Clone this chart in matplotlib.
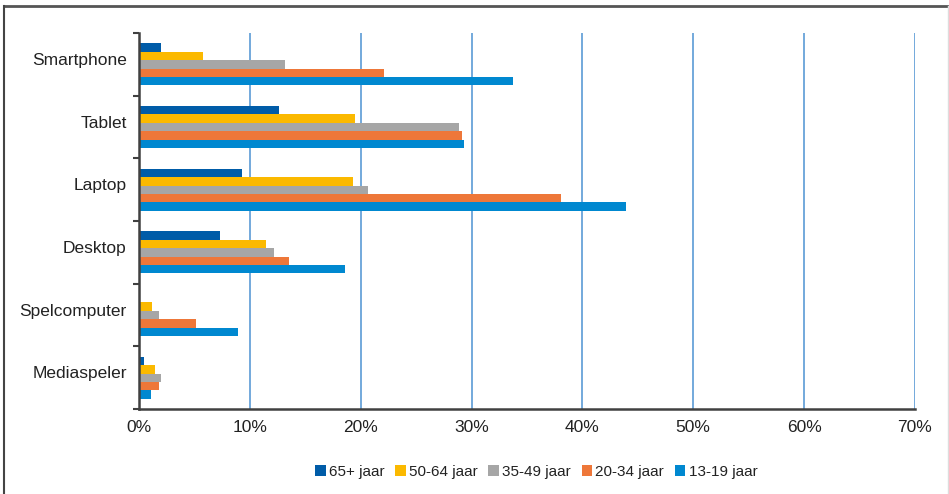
import numpy as np
import matplotlib
matplotlib.use('Agg')
from matplotlib import pyplot as plt
from matplotlib.lines import Line2D
import matplotlib.transforms as mtransforms

plt.rcParams['font.family'] = ['Liberation Sans', 'DejaVu Sans']

devices = ['Smartphone', 'Tablet', 'Laptop', 'Desktop', 'Spelcomputer', 'Mediaspeler']
groups = ['65+ jaar', '50-64 jaar', '35-49 jaar', '20-34 jaar', '13-19 jaar']
colors = ['#005ca8', '#fbb900', '#a6a6a6', '#ee7739', '#0088d0']

# percentages per device, one list per age group
age_65 = [2.0, 12.6, 9.3, 7.3, 0.0, 0.45]
age_50 = [5.8, 19.5, 19.3, 11.5, 1.2, 1.4]
age_35 = [13.2, 28.9, 20.7, 12.2, 1.8, 2.0]
age_20 = [22.1, 29.1, 38.1, 13.5, 5.1, 1.8]
age_13 = [33.7, 29.3, 43.9, 18.6, 8.9, 1.1]
values = [age_65, age_50, age_35, age_20, age_13]

fig = plt.figure(figsize=(9.49, 4.94), dpi=100)
ax = fig.add_axes([0.1465, 0.172, 0.8175, 0.761])

y = np.arange(len(devices))
h = 0.134
for i, (vals, col, lab) in enumerate(zip(values, colors, groups)):
    ax.barh(y + (i - 2) * h, vals, height=h, color=col, label=lab, zorder=3)

ax.set_xlim(0, 70)
ax.set_ylim(len(devices) - 0.5, -0.5)
ax.set_xticks(np.arange(0, 71, 10))
ax.set_xticklabels([f'{v}%' for v in range(0, 71, 10)], fontsize=12.5, color='#222222')
ax.set_yticks(y)
ax.set_yticklabels(devices, fontsize=12.5, color='#222222')
ax.set_yticks(np.arange(-0.5, len(devices), 1), minor=True)
ax.tick_params(axis='y', which='major', length=0, pad=11)
ax.tick_params(axis='y', which='minor', length=4, width=1.5, color='#404040')
ax.tick_params(axis='x', length=0, pad=8)

# category names sit a little above the group centre
shift = mtransforms.ScaledTranslation(0.03, 0.055, fig.dpi_scale_trans)
for lbl in ax.get_yticklabels():
    lbl.set_transform(lbl.get_transform() + shift)

ax.grid(axis='x', color='#5b9bd5', linewidth=1.2, zorder=0)
for s in ['top', 'right']:
    ax.spines[s].set_visible(False)
for s in ['left', 'bottom']:
    ax.spines[s].set_color('#404040')
    ax.spines[s].set_linewidth(1.8)
    ax.spines[s].set_zorder(4)

leg = fig.legend(loc='center', bbox_to_anchor=(0.565, 0.045), ncol=5, frameon=False,
                 fontsize=11, handlelength=0.7, handleheight=0.7, handletextpad=0.2,
                 columnspacing=0.7)
for t in leg.get_texts():
    t.set_color('#222222')

# outer frame
fig.add_artist(Line2D([4 / 949, 948 / 949], [1 - 6 / 494, 1 - 6 / 494],
                      transform=fig.transFigure, color='#555555', linewidth=2))
fig.add_artist(Line2D([4 / 949, 4 / 949], [0, 1 - 6 / 494],
                      transform=fig.transFigure, color='#444444', linewidth=1.5))
fig.add_artist(Line2D([948 / 949, 948 / 949], [0, 1 - 6 / 494],
                      transform=fig.transFigure, color='#dddddd', linewidth=1))

plt.savefig('out.png', dpi=100)
